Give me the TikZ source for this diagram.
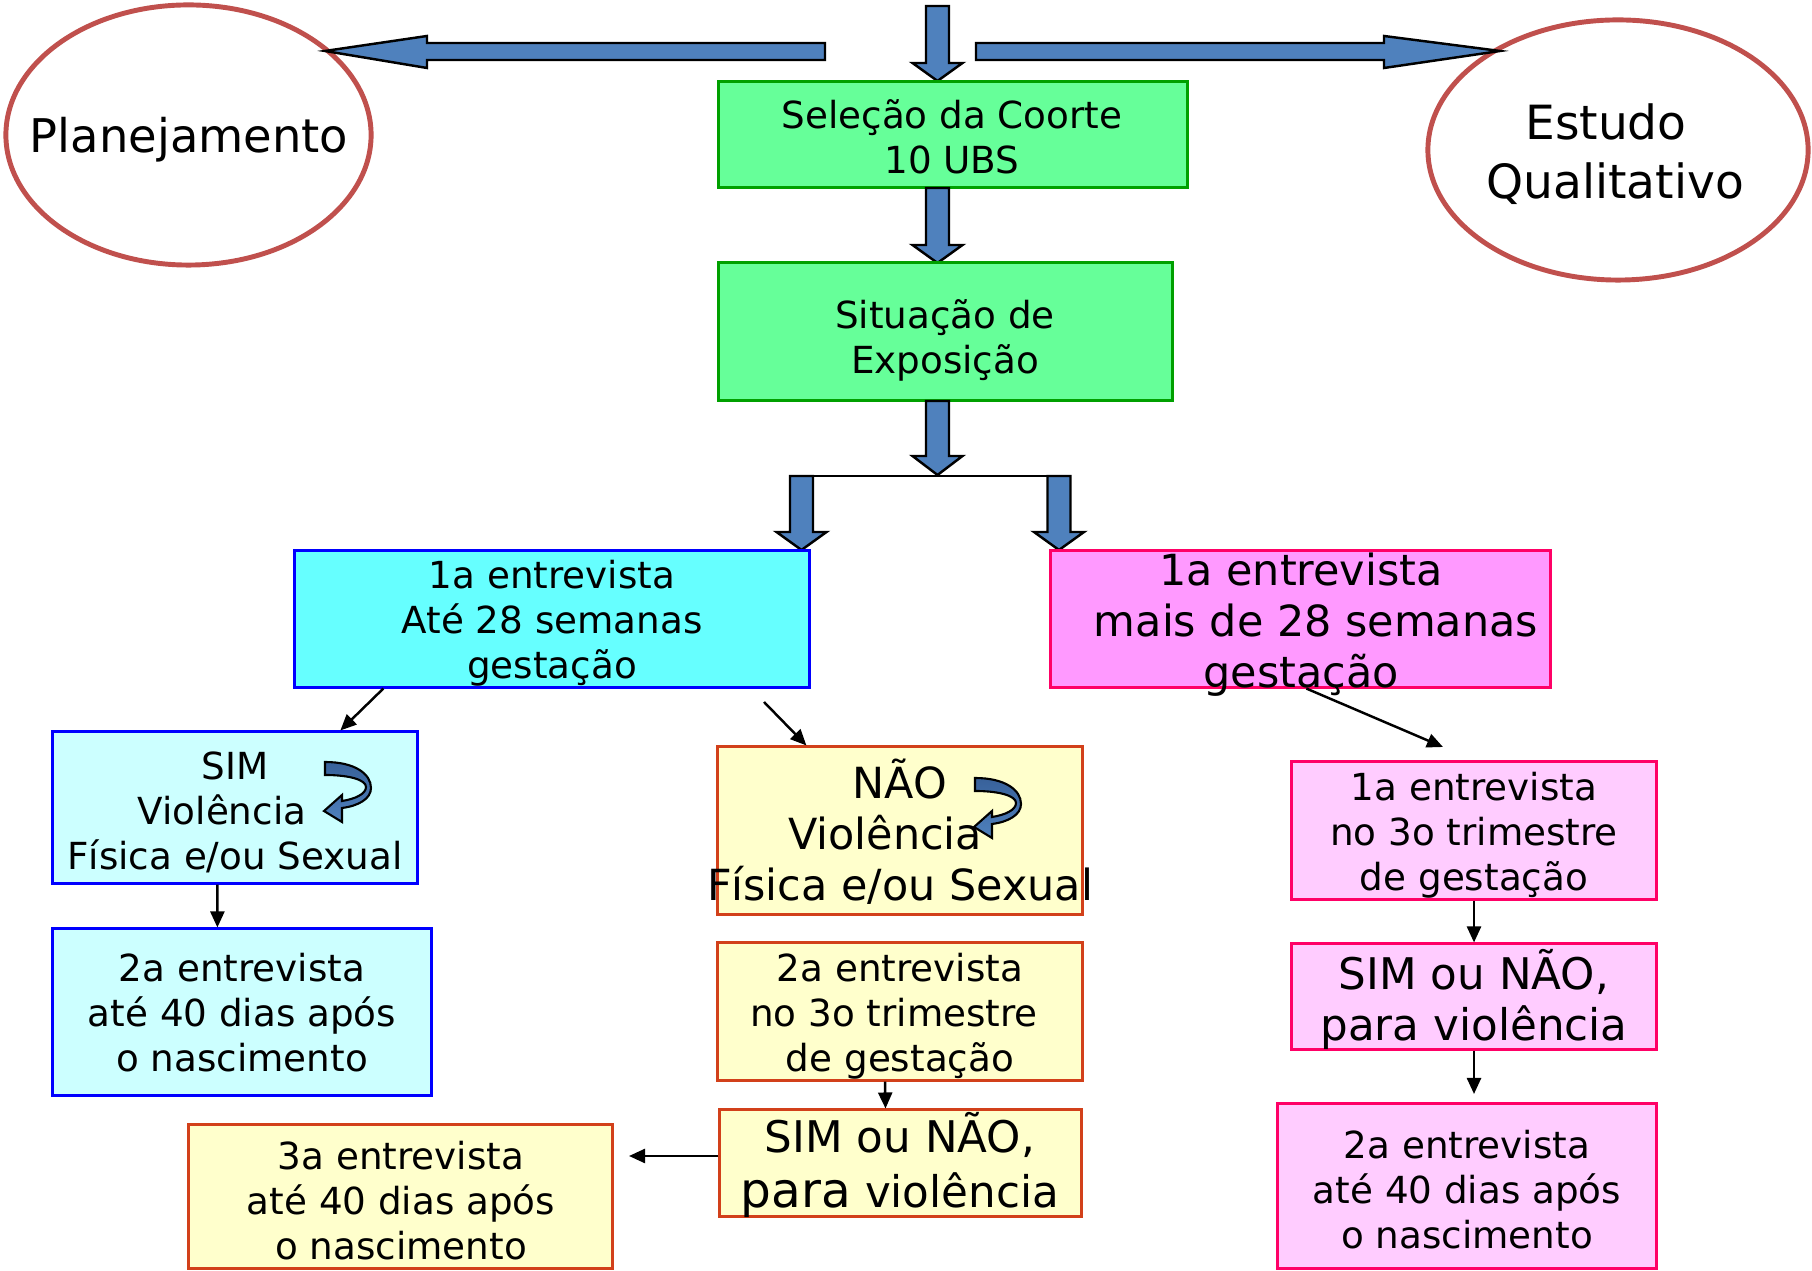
\documentclass[tikz,border=0pt]{standalone}
\usepackage{fontspec}
\setmainfont{DejaVu Sans}
\usetikzlibrary{shapes.geometric,arrows.meta,calc}
\definecolor{gfill}{HTML}{66FF99}
\definecolor{gline}{HTML}{00A000}
\definecolor{cfill}{HTML}{66FFFF}
\definecolor{lcfill}{HTML}{CCFFFF}
\definecolor{bline}{HTML}{0000FF}
\definecolor{mfill}{HTML}{FF99FF}
\definecolor{lmfill}{HTML}{FFCCFF}
\definecolor{mline}{HTML}{FF0066}
\definecolor{yfill}{HTML}{FFFFCC}
\definecolor{yline}{HTML}{D2401A}
\definecolor{eline}{HTML}{C0504D}
\definecolor{barrow}{HTML}{4F81BD}
\definecolor{bdark}{HTML}{38619A}
\newcommand{\fsm}{\fontsize{10.6}{12.8}\selectfont}
\newcommand{\fmd}{\fontsize{12.2}{14.5}\selectfont}
\newcommand{\vbarrow}[4]{\draw[blockarrow] (#1-11.5,#2) -- (#1+11.5,#2) -- (#1+11.5,#3) -- (#1+25,#3) -- (#1,#4) -- (#1-25,#3) -- (#1-11.5,#3) -- cycle;}
\newcommand{\curlarrow}[2]{\draw[curlstyle, shift={(#1,#2)}] (0,0) .. controls (30,0) and (46,12) .. (46,26) .. controls (46,37) and (33,44) .. (17,46) -- (17,60) -- (-1,49) -- (17,33) -- (17,39) .. controls (30,37) and (41,32) .. (41,25) .. controls (41,18) and (25,13) .. (0,13) -- cycle;}
\begin{document}
\begin{tikzpicture}[x=0.01cm,y=-0.01cm,
  rbox/.style={draw, rectangle, line width=0.85pt, inner sep=0pt},
  greenbox/.style={rbox, fill=gfill, draw=gline},
  cyanbox/.style={rbox, fill=cfill, draw=bline},
  lcyanbox/.style={rbox, fill=lcfill, draw=bline},
  magbox/.style={rbox, fill=mfill, draw=mline},
  lmagbox/.style={rbox, fill=lmfill, draw=mline},
  yelbox/.style={rbox, fill=yfill, draw=yline},
  oval/.style={ellipse, draw=eline, line width=1.4pt, fill=white, inner sep=0pt},
  txt/.style={align=center, inner sep=0pt, text=black},
  blockarrow/.style={fill=barrow, draw=black, line width=0.7pt, line join=miter},
  curlstyle/.style={draw=black, line width=0.6pt, top color=bdark, bottom color=barrow},
  conn/.style={draw=black, line width=0.7pt, -{Triangle[length=0.16cm,width=0.14cm]}}]
\fill[white] (0,0) rectangle (1812,1271);
\useasboundingbox (0,0) rectangle (1812,1271);

% ellipses
\node[oval, minimum width=3.65cm, minimum height=2.6cm] (plan) at (188.5,135) {};
\node[txt, font=\fontsize{13.2}{16.8}\selectfont] (planT) at (189,140) {Planejamento};
\node[oval, minimum width=3.8cm, minimum height=2.6cm] (estudo) at (1618,150) {};
\node[txt, font=\fontsize{13.4}{16.8}\selectfont] (estudoT) at (1615,154) {\mbox{Estudo\hspace{0.18cm}}\\Qualitativo};

% block arrows (top)
\draw[blockarrow] (825,43) -- (427,43) -- (427,36) -- (325,51) -- (427,68) -- (427,60) -- (825,60) -- cycle;
\draw[blockarrow] (976,43) -- (1384,43) -- (1384,36) -- (1500,51) -- (1384,68) -- (1384,60) -- (976,60) -- cycle;
\vbarrow{937.5}{6}{63}{81}

% green boxes
\node[greenbox, minimum width=4.68cm, minimum height=1.05cm] (sel) at (953,134.5) {};
\node[txt, font=\fsm] (selT) at (952,137) {Seleção da Coorte\\10 UBS};
\vbarrow{937.5}{188}{245}{263}
\node[greenbox, minimum width=4.53cm, minimum height=1.37cm] (sit) at (945.5,331.5) {};
\node[txt, font=\fsm] (sitT) at (945,340) {Situação de\\Exposição};
\vbarrow{937.5}{401}{456}{475}

% branch
\draw[black, line width=0.7pt] (790,476) -- (1070,476);
\vbarrow{801.5}{476}{532}{550}
\vbarrow{1059}{476}{532}{550}

% second level
\node[cyanbox, minimum width=5.14cm, minimum height=1.36cm] (cyan1) at (552,619) {};
\node[txt, font=\fsm] (cyan1T) at (552,623) {1a entrevista\\Até 28 semanas\\gestação};
\node[magbox, minimum width=4.99cm, minimum height=1.36cm] (ptop) at (1300.5,619) {};
\node[txt, font=\fmd] (ptopT) at (1301,625) {1a entrevista\\\mbox{\hspace{0.3cm}mais de 28 semanas}\\gestação};

% left column
\node[lcyanbox, minimum width=3.64cm, minimum height=1.51cm] (sim) at (235,807.5) {};
\node[txt, font=\fsm] (simT) at (235,812) {SIM\\\mbox{Violência\hspace{0.26cm}}\\Física e/ou Sexual};
\curlarrow{325}{762}
\node[lcyanbox, minimum width=3.78cm, minimum height=1.66cm] (sim2) at (242,1012) {};
\node[txt, font=\fsm] (sim2T) at (242,1013) {2a entrevista\\até 40 dias após\\o nascimento};

% middle column
\node[yelbox, minimum width=3.64cm, minimum height=1.67cm] (nao) at (900,830.5) {};
\node[txt, font=\fmd] (naoT) at (900,832) {NÃO\\\mbox{Violência\hspace{0.3cm}}\\Física e/ou Sexual};
\curlarrow{975}{778}
\node[yelbox, minimum width=3.64cm, minimum height=1.37cm] (y2a) at (900,1011.5) {};
\node[txt, font=\fsm] (y2aT) at (900,1016) {2a entrevista\\\mbox{no 3o trimestre\hspace{0.12cm}}\\de gestação};
\node[yelbox, minimum width=3.61cm, minimum height=1.06cm] (ysn) at (900.5,1163) {};
\node[txt, font=\fontsize{12.4}{15.6}\selectfont] (ysnT) at (900,1165) {SIM ou NÃO,\\{\fontsize{13.8}{15.6}\selectfont para} violência};
\node[yelbox, minimum width=4.23cm, minimum height=1.43cm] (y3a) at (400.5,1196.5) {};
\node[txt, font=\fsm] (y3aT) at (401,1201) {3a entrevista\\até 40 dias após\\o nascimento};

% right column
\node[lmagbox, minimum width=3.64cm, minimum height=1.37cm] (p1) at (1474,830.5) {};
\node[txt, font=\fsm] (p1T) at (1474,835) {1a entrevista\\no 3o trimestre\\de gestação};
\node[lmagbox, minimum width=3.64cm, minimum height=1.05cm] (psn) at (1474,996.5) {};
\node[txt, font=\fontsize{12.4}{14.5}\selectfont] (psnT) at (1474,999.5) {SIM ou NÃO,\\para violência};
\node[lmagbox, minimum width=3.78cm, minimum height=1.64cm] (p2a) at (1467,1186) {};
\node[txt, font=\fsm] (p2aT) at (1467,1190) {2a entrevista\\até 40 dias após\\o nascimento};

% thin connectors
\coordinate (n0) at (764,702);
\coordinate (e3) at (1443,747);
\coordinate (e6) at (629,1156);
\coordinate (e8) at (1474,1094);
\draw[conn] ($(cyan1.south west)+(90,0)$) -- ($(sim.north west)+(289,0)$);
\draw[conn] (n0) -- ($(nao.north west)+(90,0)$);
\draw[conn] ($(ptop.south west)+(257,0)$) -- (e3);
\draw[conn] ($(sim.south west)+(166,0)$) -- ($(sim2.north west)+(166,0)$);
\draw[conn] ($(y2a.south)+(-15,0)$) -- ($(ysn.north)+(-15,0)$);
\draw[conn] (ysn.west |- e6) -- (e6);
\draw[conn] (p1.south) -- (psn.north);
\draw[conn] (psn.south) -- (e8);
\end{tikzpicture}
\end{document}
